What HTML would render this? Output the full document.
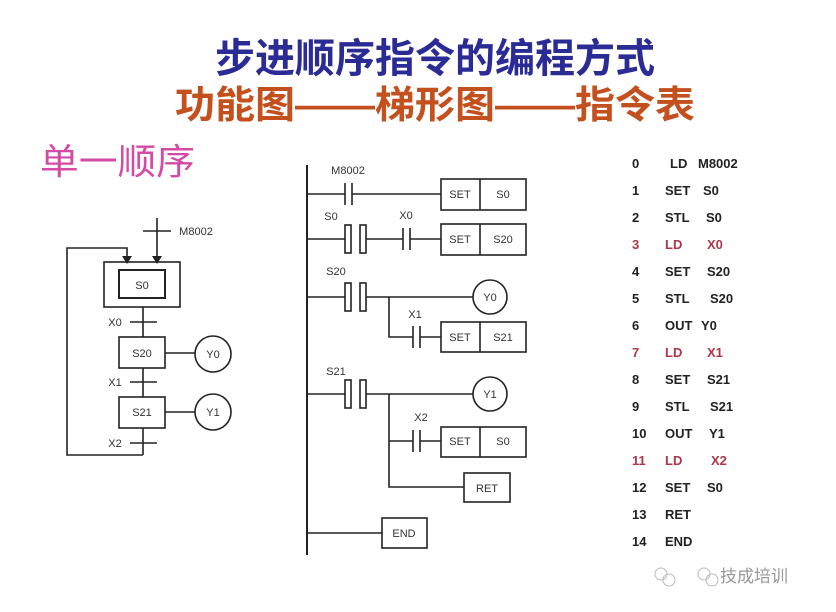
<!DOCTYPE html>
<html><head><meta charset="utf-8"><style>
html,body{margin:0;padding:0;background:#fff;width:836px;height:612px;overflow:hidden}
svg text{font-family:"Liberation Sans",Arial,sans-serif}
.cj{font-family:"Liberation Sans","Noto Sans CJK SC",sans-serif}
</style></head><body>
<svg width="836" height="612" viewBox="0 0 836 612" xmlns="http://www.w3.org/2000/svg">
<text class="cj" x="435" y="72" text-anchor="middle" font-size="40" font-weight="bold" fill="#2b2b95" textLength="440" lengthAdjust="spacingAndGlyphs">步进顺序指令的编程方式</text>
<text class="cj" x="435" y="118" text-anchor="middle" font-size="38" font-weight="bold" fill="#c4501e" textLength="520" lengthAdjust="spacingAndGlyphs">功能图——梯形图——指令表</text>
<text class="cj" x="40" y="174" font-size="36" fill="#d54aa5" textLength="155" lengthAdjust="spacingAndGlyphs">单一顺序</text>

<g stroke="#222" stroke-width="1.6" fill="none">
<line x1="157" y1="218" x2="157" y2="258"/><line x1="143" y1="231" x2="171" y2="231"/>
<polyline points="127,258 127,248 67,248 67,455 143,455"/>
<rect x="104" y="262" width="76" height="45"/>
<rect x="119" y="270" width="46" height="28" stroke-width="2"/>
<line x1="143" y1="307" x2="143" y2="337"/><line x1="130" y1="322" x2="157" y2="322"/>
<rect x="119" y="337" width="46" height="31"/>
<line x1="165" y1="353" x2="195" y2="353"/><circle cx="213" cy="354" r="18"/>
<line x1="143" y1="368" x2="143" y2="397"/><line x1="130" y1="382" x2="157" y2="382"/>
<rect x="119" y="397" width="46" height="31"/>
<line x1="165" y1="412" x2="195" y2="412"/><circle cx="213" cy="412" r="18"/>
<line x1="143" y1="428" x2="143" y2="455"/><line x1="130" y1="443" x2="157" y2="443"/>
<line x1="307" y1="165" x2="307" y2="555" stroke-width="2"/>
<line x1="307" y1="194" x2="345" y2="194"/><line x1="345" y1="183" x2="345" y2="205"/><line x1="352" y1="183" x2="352" y2="205"/><line x1="352" y1="194" x2="441" y2="194"/>
<rect x="441" y="179" width="85" height="31"/><line x1="480" y1="179" x2="480" y2="210"/>
<line x1="307" y1="239" x2="345" y2="239"/><rect x="345" y="225" width="6" height="28"/><rect x="360" y="225" width="6" height="28"/>
<line x1="366" y1="239" x2="403" y2="239"/><line x1="403" y1="228" x2="403" y2="250"/><line x1="410" y1="228" x2="410" y2="250"/><line x1="410" y1="239" x2="441" y2="239"/>
<rect x="441" y="224" width="85" height="31"/><line x1="480" y1="224" x2="480" y2="255"/>
<line x1="307" y1="297" x2="345" y2="297"/><rect x="345" y="283" width="6" height="28"/><rect x="360" y="283" width="6" height="28"/>
<line x1="366" y1="297" x2="473" y2="297"/><circle cx="490" cy="297" r="17"/>
<polyline points="389,297 389,337 413,337"/><line x1="413" y1="326" x2="413" y2="348"/><line x1="420" y1="326" x2="420" y2="348"/><line x1="420" y1="337" x2="441" y2="337"/>
<rect x="441" y="322" width="85" height="30"/><line x1="480" y1="322" x2="480" y2="352"/>
<line x1="307" y1="394" x2="345" y2="394"/><rect x="345" y="380" width="6" height="28"/><rect x="360" y="380" width="6" height="28"/>
<line x1="366" y1="394" x2="473" y2="394"/><circle cx="490" cy="394" r="17"/>
<polyline points="389,394 389,487 464,487"/><line x1="389" y1="441" x2="413" y2="441"/><line x1="413" y1="430" x2="413" y2="452"/><line x1="420" y1="430" x2="420" y2="452"/><line x1="420" y1="441" x2="441" y2="441"/>
<rect x="441" y="427" width="85" height="30"/><line x1="480" y1="427" x2="480" y2="457"/>
<rect x="464" y="473" width="46" height="29"/>
<line x1="307" y1="533" x2="382" y2="533"/><rect x="382" y="518" width="45" height="30"/>
</g>
<polygon points="122,256 132,256 127,264" fill="#222"/><polygon points="152,256 162,256 157,264" fill="#222"/>
<g font-size="11" fill="#333" text-anchor="middle">
<text x="196" y="235">M8002</text><text x="142" y="289">S0</text><text x="115" y="326">X0</text>
<text x="142" y="357">S20</text><text x="213" y="358">Y0</text><text x="115" y="386">X1</text>
<text x="142" y="416">S21</text><text x="213" y="416">Y1</text><text x="115" y="447">X2</text>
<text x="348" y="174">M8002</text><text x="331" y="220">S0</text><text x="406" y="219">X0</text>
<text x="460" y="198">SET</text><text x="503" y="198">S0</text>
<text x="460" y="243">SET</text><text x="503" y="243">S20</text>
<text x="336" y="275">S20</text><text x="490" y="301">Y0</text><text x="415" y="318">X1</text>
<text x="460" y="341">SET</text><text x="503" y="341">S21</text>
<text x="336" y="375">S21</text><text x="490" y="398">Y1</text><text x="421" y="421">X2</text>
<text x="460" y="445">SET</text><text x="503" y="445">S0</text>
<text x="487" y="492">RET</text><text x="404" y="537">END</text>
</g>
<g font-size="13" font-weight="bold" fill="#222">
<text x="632" y="168">0</text><text x="670" y="168">LD</text><text x="698" y="168">M8002</text>
<text x="632" y="195">1</text><text x="665" y="195">SET</text><text x="703" y="195">S0</text>
<text x="632" y="222">2</text><text x="665" y="222">STL</text><text x="706" y="222">S0</text>
<text x="632" y="249" fill="#b03548">3</text><text x="665" y="249" fill="#b03548">LD</text><text x="707" y="249" fill="#b03548">X0</text>
<text x="632" y="276">4</text><text x="665" y="276">SET</text><text x="707" y="276">S20</text>
<text x="632" y="303">5</text><text x="665" y="303">STL</text><text x="710" y="303">S20</text>
<text x="632" y="330">6</text><text x="665" y="330">OUT</text><text x="701" y="330">Y0</text>
<text x="632" y="357" fill="#b03548">7</text><text x="665" y="357" fill="#b03548">LD</text><text x="707" y="357" fill="#b03548">X1</text>
<text x="632" y="384">8</text><text x="665" y="384">SET</text><text x="707" y="384">S21</text>
<text x="632" y="411">9</text><text x="665" y="411">STL</text><text x="710" y="411">S21</text>
<text x="632" y="438">10</text><text x="665" y="438">OUT</text><text x="709" y="438">Y1</text>
<text x="632" y="465" fill="#b03548">11</text><text x="665" y="465" fill="#b03548">LD</text><text x="711" y="465" fill="#b03548">X2</text>
<text x="632" y="492">12</text><text x="665" y="492">SET</text><text x="707" y="492">S0</text>
<text x="632" y="519">13</text><text x="665" y="519">RET</text>
<text x="632" y="546">14</text><text x="665" y="546">END</text>
</g>
<g fill="none" stroke="#bbb" stroke-width="1"><circle cx="661" cy="574" r="6"/><circle cx="669" cy="580" r="6"/><circle cx="704" cy="574" r="6"/><circle cx="712" cy="580" r="6"/></g>
<text class="cj" x="720" y="582" font-size="17" fill="#999">技成培训</text>
</svg>
</body></html>
